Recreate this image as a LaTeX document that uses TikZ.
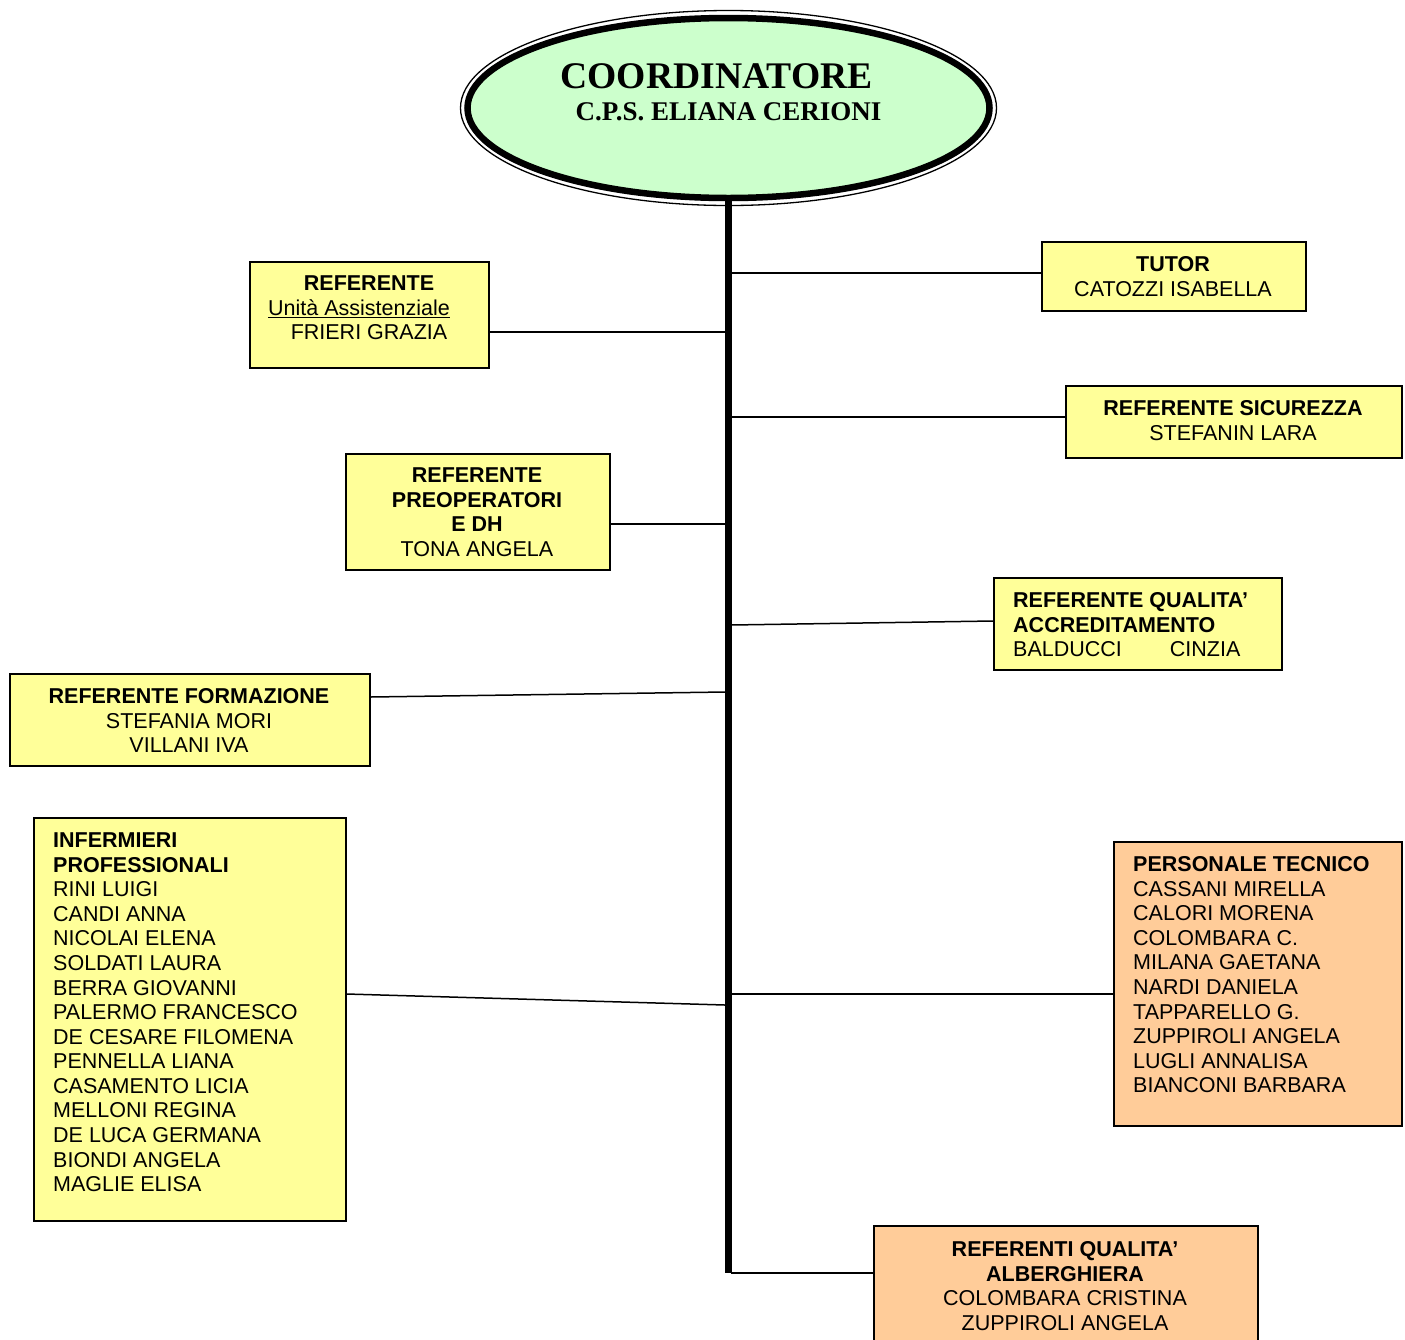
\documentclass[tikz,border=0pt]{standalone}
\usepackage{fontspec}
\setmainfont{Liberation Sans}
\newfontfamily\tnr{Liberation Serif}
\usetikzlibrary{shapes.geometric}
\definecolor{byel}{HTML}{FFFF99}
\definecolor{bora}{HTML}{FFCC99}
\definecolor{bgre}{HTML}{CCFFCC}
\begin{document}
\begin{tikzpicture}[x=1pt,y=-1pt,
  box/.style={draw=black, line width=1.6pt, fill=byel, inner sep=0, anchor=north west},
  obox/.style={box, fill=bora},
  txt/.style={inner sep=0, font=\fontsize{21.5}{24.57}\selectfont},
  txtc/.style={txt, align=center, anchor=north},
  txtl/.style={txt, align=left, anchor=north west},
  link/.style={draw=black, line width=1.5pt},
  spine/.style={draw=black, line width=7pt}]
\useasboundingbox[fill=white] (0,0) rectangle (1405,1339);

% spine
\coordinate (bot) at (728,1273);
\node[ellipse, draw=black, line width=6.5pt, fill=bgre, minimum width=522, minimum height=180, inner sep=0] (coord) at (728.5,108) {};
\draw[spine] (728,199) -- (bot);
\draw[line width=1.3pt] (coord.center) ellipse [x radius=268, y radius=97.5];
\node[inner sep=0, anchor=base, font=\tnr\bfseries\fontsize{37.6}{40}\selectfont] (coordt1) at (716.5,88) {COORDINATORE};
\node[inner sep=0, anchor=base, font=\tnr\bfseries\fontsize{27}{30}\selectfont] (coordt2) at (728.5,120) {C.P.S. ELIANA CERIONI};

% boxes
\node[box, minimum width=239, minimum height=106] (ua) at (249,261) {};
\node[box, minimum width=264, minimum height=69] (tutor) at (1041,241) {};
\node[box, minimum width=336, minimum height=72] (sic) at (1065,385) {};
\node[box, minimum width=264, minimum height=116] (preop) at (345,453) {};
\node[box, minimum width=288, minimum height=92] (qual) at (993,577) {};
\node[box, minimum width=360, minimum height=92] (form) at (9,673) {};
\node[box, minimum width=312, minimum height=403] (inf) at (33,817) {};
\node[obox, minimum width=288, minimum height=284] (tec) at (1113,841) {};
\node[obox, minimum width=384, minimum height=130] (alb) at (873,1225) {};

% texts
\node[txtc] (uat) at (369,290.5-17.2) {\strut\textbf{REFERENTE}\\\underline{Unità Assistenziale}\kern20pt\\FRIERI GRAZIA};
\node[txtc] (tutort) at (1173,271.5-17.2) {\strut\textbf{TUTOR}\\CATOZZI ISABELLA};
\node[txtc] (sict) at (1233,415.5-17.2) {\strut\textbf{REFERENTE SICUREZZA}\\STEFANIN LARA};
\node[txtc] (preopt) at (477,482.5-17.2) {\strut\textbf{REFERENTE}\\\textbf{PREOPERATORI}\\\textbf{E DH}\\TONA ANGELA};
\node[txtl] (qualt) at (1013,607.5-17.2) {\strut\textbf{REFERENTE QUALITA’}\\\textbf{ACCREDITAMENTO}\\BALDUCCI\hspace{48pt}CINZIA};
\node[txtc] (formt) at (189,703.5-17.2) {\strut\textbf{REFERENTE FORMAZIONE}\\STEFANIA MORI\\VILLANI IVA};
\node[txtl] (inft) at (53,847.5-17.2) {\strut\textbf{INFERMIERI}\\\textbf{PROFESSIONALI}\\RINI LUIGI\\CANDI ANNA\\NICOLAI ELENA\\SOLDATI LAURA\\BERRA GIOVANNI\\PALERMO FRANCESCO\\DE CESARE FILOMENA\\PENNELLA LIANA\\CASAMENTO LICIA\\MELLONI REGINA\\DE LUCA GERMANA\\BIONDI ANGELA\\MAGLIE ELISA};
\node[txtl] (tect) at (1133,871.5-17.2) {\strut\textbf{PERSONALE TECNICO}\\CASSANI MIRELLA\\CALORI MORENA\\COLOMBARA C.\\MILANA GAETANA\\NARDI DANIELA\\TAPPARELLO G.\\ZUPPIROLI ANGELA\\LUGLI ANNALISA\\BIANCONI BARBARA};
\node[txtc] (albt) at (1065,1256.5-17.2) {\strut\textbf{REFERENTI QUALITA’}\\\textbf{ALBERGHIERA}\\COLOMBARA CRISTINA\\ZUPPIROLI ANGELA};

% spine coordinates
\coordinate (s1) at (725,332);
\coordinate (s2) at (731,273);
\coordinate (s3) at (731,417);
\coordinate (s4) at (725,524);
\coordinate (s5) at (731,625);
\coordinate (s6) at (725,692);
\coordinate (s7) at (725,1005);
\coordinate (s8) at (731,994);
\coordinate (s9) at (731,1273);

% connectors
\draw[link] (ua.east |- s1) -- (s1);
\draw[link] (s2) -- (tutor.west |- s2);
\draw[link] (s3) -- (sic.west |- s3);
\draw[link] (preop.east |- s4) -- (s4);
\draw[link] (s5) -- (qual.west |- 0,621);
\draw[link] (form.east |- 0,697) -- (s6);
\draw[link] (inf.east |- 0,994) -- (s7);
\draw[link] (s8) -- (tec.west |- s8);
\draw[link] (s9) -- (alb.west |- s9);
\end{tikzpicture}
\end{document}
